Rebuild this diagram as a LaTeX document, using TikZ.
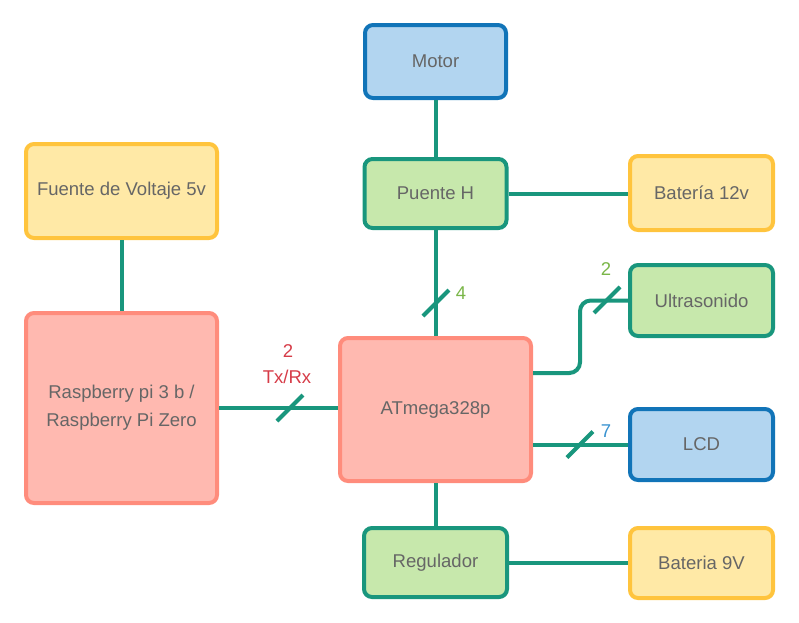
\documentclass[tikz,border=0pt]{standalone}
\usepackage{fontspec}
\setmainfont{Liberation Sans}
\definecolor{ylwfill}{HTML}{FFE9A6}
\definecolor{ylwline}{HTML}{FFC43D}
\definecolor{redfill}{HTML}{FFB9B0}
\definecolor{redline}{HTML}{FF8C7C}
\definecolor{grnfill}{HTML}{C7E8AC}
\definecolor{grnline}{HTML}{19967D}
\definecolor{blufill}{HTML}{B2D5F0}
\definecolor{bluline}{HTML}{1174B8}
\definecolor{txtgray}{HTML}{666666}
\definecolor{lblred}{HTML}{D63C48}
\definecolor{lblgrn}{HTML}{7AB648}
\definecolor{lblblu}{HTML}{3A93D0}
\tikzset{
  box/.style={draw, line width=3pt, rounded corners=6pt, align=center,
    text=txtgray, font=\fontsize{13.9}{21}\selectfont, inner sep=0pt},
  ybox/.style={box, fill=ylwfill, draw=ylwline},
  rbox/.style={box, fill=redfill, draw=redline},
  gbox/.style={box, fill=grnfill, draw=grnline},
  bbox/.style={box, fill=blufill, draw=bluline},
  wire/.style={draw=grnline, line width=3pt},
  slash/.style={draw=grnline, line width=3pt},
  lbl/.style={font=\fontsize{13.9}{17}\selectfont, inner sep=0pt},
}
\begin{document}
\begin{tikzpicture}[x=0.75pt, y=-0.75pt]
\useasboundingbox (0,0) rectangle (799,622);
% boxes
\node[bbox, minimum width=141*0.75pt, minimum height=73*0.75pt] (motor) at (435.5,61.5) {Motor};
\node[gbox, minimum width=142*0.75pt, minimum height=69*0.75pt] (puente) at (435.5,193.5) {Puente H};
\node[ybox, minimum width=143*0.75pt, minimum height=74*0.75pt] (bat12) at (701.5,193) {Batería 12v};
\node[gbox, minimum width=143*0.75pt, minimum height=71*0.75pt] (ultra) at (701.5,300.5) {Ultrasonido};
\node[bbox, minimum width=143*0.75pt, minimum height=71*0.75pt] (lcd) at (701.5,444.5) {LCD};
\node[ybox, minimum width=143*0.75pt, minimum height=70*0.75pt] (bat9) at (701.5,563) {Bateria 9V};
\node[gbox, minimum width=143*0.75pt, minimum height=69*0.75pt] (reg) at (435.5,562.5) {Regulador};
\node[rbox, minimum width=191*0.75pt, minimum height=143*0.75pt] (atm) at (435.5,409.5) {ATmega328p};
\node[rbox, minimum width=191*0.75pt, minimum height=190*0.75pt] (rasp) at (121.5,408) {Raspberry pi 3 b /\\Raspberry Pi Zero};
\node[ybox, minimum width=191*0.75pt, minimum height=94*0.75pt] (fuente) at (121.5,191) {Fuente de Voltaje 5v};
% connectors
\draw[wire] (motor.south) -- (motor.south |- puente.north);
\draw[wire] (puente.east) -- (puente.east -| bat12.west);
\draw[wire] (puente.south) -- (puente.south |- atm.north);
\draw[wire] (fuente.south) -- (fuente.south |- rasp.north);
\draw[wire] (rasp.east) -- (rasp.east -| atm.west);
\coordinate (bend) at (580,0);
\draw[wire, rounded corners=8pt] ([shift={(0,-36.5)}]atm.east) -| (bend |- ultra.west) -- (ultra.west);
\draw[wire] (atm.east |- lcd.west) -- (lcd.west);
\draw[wire] (atm.south) -- (atm.south |- reg.north);
\draw[wire] (reg.east) -- (reg.east -| bat9.west);
% bus slashes
\coordinate (s1) at (436,303);
\coordinate (s2) at (290,408);
\coordinate (s3) at (607,300);
\coordinate (s4) at (580,444.5);
\foreach \s in {s1,s2,s3,s4}
  \draw[slash] ([shift={(-13,13)}]\s) -- ([shift={(13,-13)}]\s);
% labels
\node[lbl, text=lblred] (l2a) at (288,351) {2};
\node[lbl, text=lblred] (ltx) at (287,377) {Tx/Rx};
\node[lbl, text=lblgrn] (l4) at (461,293) {4};
\node[lbl, text=lblgrn] (l2b) at (606,269) {2};
\node[lbl, text=lblblu] (l7) at (606,431) {7};
\end{tikzpicture}
\end{document}
